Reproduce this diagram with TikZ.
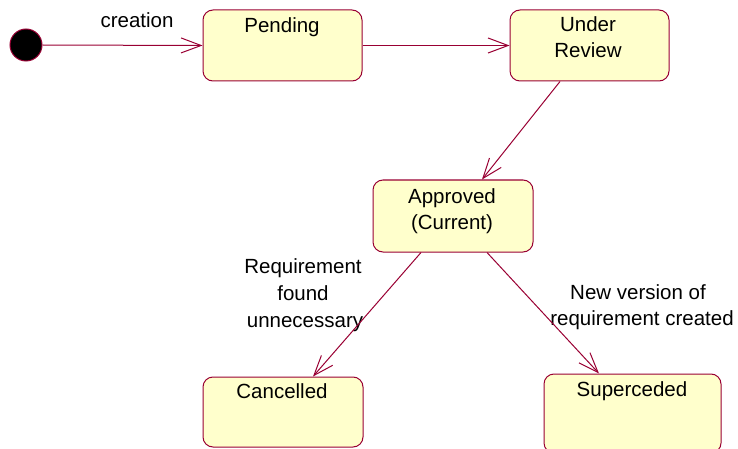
\documentclass[tikz,border=0pt]{standalone}
\usepackage{fontspec}
\setmainfont{Liberation Sans}
\usetikzlibrary{arrows.meta,calc}
\definecolor{edge}{HTML}{990033}
\definecolor{boxfill}{HTML}{FFFFCC}
\tikzset{
  state/.style={draw=edge, fill=boxfill, rounded corners=10pt, line width=1pt, inner sep=0pt},
  txt/.style={anchor=base, inner sep=0pt, font=\fontsize{20.5}{24}\selectfont},
  trans/.style={draw=edge, line width=1pt, -{Straight Barb[length=20pt, width=15pt, line width=1pt]}}
}
\begin{document}
\begin{tikzpicture}[x=1pt,y=-1pt]
\useasboundingbox (0,0) rectangle (738,449);
\node[circle, fill=black, draw=edge, line width=1pt, minimum size=32pt, inner sep=0pt] (init) at (26,45) {};
\node[state, minimum width=159pt, minimum height=71pt] (pend) at (282.5,45.5) {};
\node[state, minimum width=159pt, minimum height=71pt] (rev) at (589.5,45.5) {};
\node[state, minimum width=160pt, minimum height=72pt] (appr) at (453,216) {};
\node[state, minimum width=160pt, minimum height=70pt] (canc) at (283,412) {};
\node[state, minimum width=177pt, minimum height=79pt] (sup) at (632.5,413.5) {};

\node[txt] (tpend) at (282,33) {Pending};
\node[txt] (trev1) at (588,32) {Under};
\node[txt] (trev2) at (588,58) {Review};
\node[txt] (tappr1) at (452,203) {Approved};
\node[txt] (tappr2) at (452,229) {(Current)};
\node[txt] (tcanc) at (282,398) {Cancelled};
\node[txt] (tsup) at (632,396) {Superceded};

\node[txt] (lcre) at (137,28) {creation};
\node[txt] (lreq1) at (303,273) {Requirement};
\node[txt] (lreq2) at (303,300) {found};
\node[txt] (lreq3) at (305,327) {unnecessary};
\node[txt] (lnew1) at (638,299) {New version of};
\node[txt] (lnew2) at (642,325) {requirement created};

\draw[trans] (init.east) -- (pend.west);
\draw[trans] (pend.east) -- (rev.west);
\draw[trans] ($(rev.south)+(-29.5,0)$) -- ($(appr.north)+(29,0)$);
\draw[trans] ($(appr.south)+(-32,0)$) -- ($(canc.north)+(30,0)$);
\draw[trans] ($(appr.south)+(34,0)$) -- ($(sup.north)+(-33.5,0)$);
\end{tikzpicture}
\end{document}
